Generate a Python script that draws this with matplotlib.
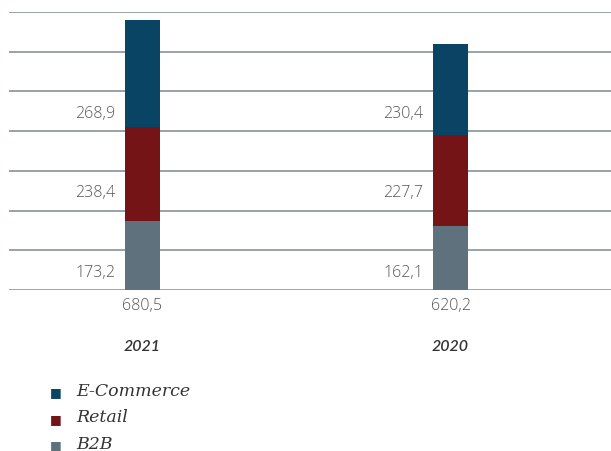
import matplotlib
matplotlib.use("Agg")
import matplotlib.pyplot as plt
import numpy as np

# values in millions
years = ["2021", "2020"]
b2b = [173.2, 162.1]
retail = [238.4, 227.7]
ecommerce = [268.9, 230.4]

series = ["B2B", "Retail", "E-Commerce"]
colors = {"B2B": "#5e717c", "Retail": "#741416", "E-Commerce": "#0a4465"}
label_y = [50, 250, 450]  # where the segment values sit

def fmt(v):
    return f"{v:.1f}".replace(".", ",")

fig = plt.figure(figsize=(6.11, 4.52), dpi=100)
ax = fig.add_axes([9 / 611, 161 / 452, 602 / 611, 278 / 452])

x = np.arange(len(years))
width = 0.114
data = {"B2B": b2b, "Retail": retail, "E-Commerce": ecommerce}

bottom = np.zeros(len(years))
for name in series:
    vals = np.array(data[name])
    ax.bar(x, vals, width, bottom=bottom, color=colors[name], zorder=3)
    bottom += vals

num_font = dict(fontsize=11.5, color="#555555", family="Open Sans", fontweight="light")
for i in range(len(years)):
    for name, ly in zip(series, label_y):
        ax.annotate(fmt(data[name][i]), xy=(x[i] - width / 2, ly),
                    xytext=(-7, -1), textcoords="offset points",
                    ha="right", va="center", **num_font)
    total = b2b[i] + retail[i] + ecommerce[i]
    ax.annotate(fmt(total), xy=(x[i], 0), xytext=(0, -11),
                textcoords="offset points", ha="center", va="center", **num_font)
    ax.annotate(years[i], xy=(x[i], 0), xytext=(0, -40),
                textcoords="offset points", ha="center", va="center",
                fontsize=11.5, color="#333333", family="Lato",
                style="italic", fontweight="semibold")

ax.set_ylim(0, 700)
ax.set_xlim(-133.5 / 308, 468.5 / 308)
ax.set_yticks(np.arange(0, 701, 100))
ax.grid(axis="y", color="#97a2a9", linewidth=1.4, zorder=0)
ax.tick_params(left=False, bottom=False, labelleft=False, labelbottom=False)
for s in ax.spines.values():
    s.set_visible(False)

# legend drawn by hand in figure coordinates, top to bottom
for k, name in enumerate(["E-Commerce", "Retail", "B2B"]):
    yy = 1 - (393 + k * 26.5) / 452
    fig.text(56 / 611, yy, "\u25a0", color=colors[name], fontsize=9,
             ha="center", va="center", family="DejaVu Sans")
    fig.text(76 / 611, yy + 0.004, name, color="#333333", fontsize=12.5,
             ha="left", va="center", family="DejaVu Serif", style="italic")

fig.savefig("out.png", dpi=100)
